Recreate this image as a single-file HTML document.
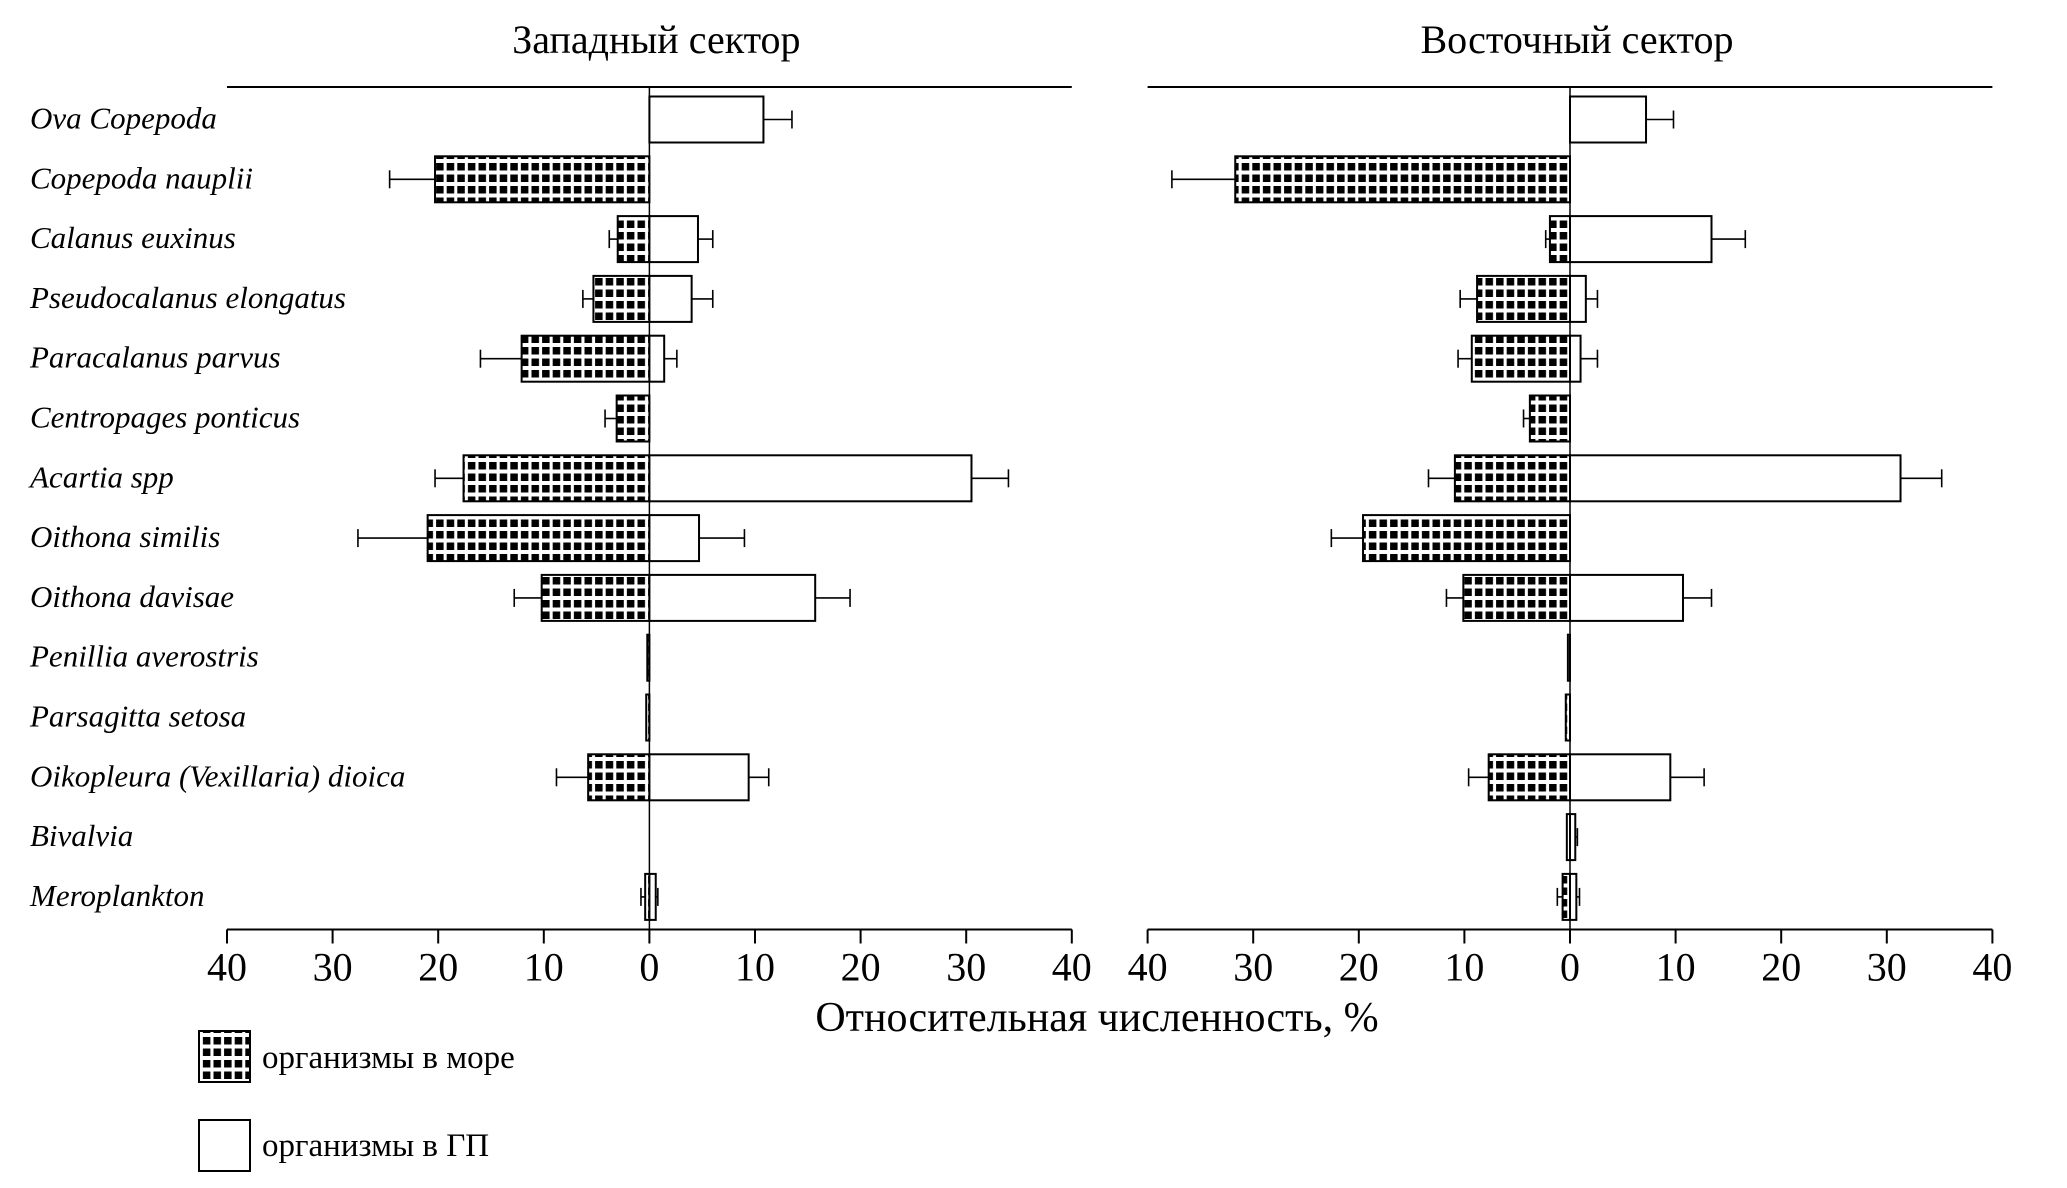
<!DOCTYPE html>
<html><head><meta charset="utf-8">
<style>
html,body{margin:0;padding:0;background:#fff;}
svg{display:block;}
text{font-family:"Liberation Serif",serif;fill:#000;}
.lab{font-style:italic;font-size:31px;}
</style></head>
<body>
<svg id="chart" width="2067" height="1188" viewBox="0 0 2067 1188" xmlns="http://www.w3.org/2000/svg">
<defs>
<pattern id="grid" width="10.6" height="11.5" patternUnits="userSpaceOnUse">
<rect width="10.6" height="11.5" fill="#fff"/>
<rect x="1.5" y="2" width="7.5" height="7.5" fill="#000"/>
</pattern>
</defs>
</svg>
<script>
const categories = ["Ova Copepoda","Copepoda nauplii","Calanus euxinus","Pseudocalanus elongatus","Paracalanus parvus","Centropages ponticus","Acartia spp","Oithona similis","Oithona davisae","Penillia averostris","Parsagitta setosa","Oikopleura (Vexillaria) dioica","Bivalvia","Meroplankton"];
const westSea    = [0, 20.3, 3.0, 5.3, 12.1, 3.1, 17.6, 21.0, 10.2, 0.2, 0.3, 5.8, 0, 0.4];
const westSeaErr = [0, 24.6, 3.8, 6.3, 16.0, 4.2, 20.3, 27.6, 12.8, 0, 0, 8.8, 0, 0.8];
const westGP     = [10.8, 0, 4.6, 4.0, 1.4, 0, 30.5, 4.7, 15.7, 0, 0, 9.4, 0, 0.6];
const westGPErr  = [13.5, 0, 6.0, 6.0, 2.6, 0, 34.0, 9.0, 19.0, 0, 0, 11.3, 0, 0.8];
const eastSea    = [0, 31.7, 1.9, 8.8, 9.3, 3.8, 10.9, 19.6, 10.1, 0.2, 0.4, 7.7, 0.3, 0.7];
const eastSeaErr = [0, 37.7, 2.3, 10.4, 10.6, 4.4, 13.4, 22.6, 11.7, 0, 0, 9.6, 0, 1.2];
const eastGP     = [7.2, 0, 13.4, 1.5, 1.0, 0, 31.3, 0, 10.7, 0, 0, 9.5, 0.5, 0.6];
const eastGPErr  = [9.8, 0, 16.6, 2.6, 2.6, 0, 35.2, 0, 13.4, 0, 0, 12.7, 0.7, 0.9];
const tickLabels = [40,30,20,10,0,10,20,30,40];
const tickValues = [-40,-30,-20,-10,0,10,20,30,40];

const NS="http://www.w3.org/2000/svg";
const svg=document.getElementById('chart');
function mk(tag,attrs,parent){const e=document.createElementNS(NS,tag);for(const k in attrs)e.setAttribute(k,attrs[k]);(parent||svg).appendChild(e);return e;}
const topY=87, axisY=929.5;
function yc(i){return 119.5+i*59.8;}
const barH=46;

function panel(zero, title, sea, seaErr, gp, gpErr, name){
  const g=mk('g',{});
  
  
  const sx=v=>zero+v*10.56;
  const t=mk('text',{x:zero+7,y:53,'text-anchor':'middle','font-size':'40'},g);
  t.textContent=title;
  
  
  mk('line',{x1:sx(-40),x2:sx(40),y1:topY,y2:topY,stroke:'#000','stroke-width':2},g);
  const ax=mk('line',{x1:sx(-40),x2:sx(40),y1:axisY,y2:axisY,stroke:'#000','stroke-width':2},g);
  
  
  tickValues.forEach((v,k)=>{
    mk('line',{x1:sx(v),x2:sx(v),y1:axisY,y2:axisY+14,stroke:'#000','stroke-width':2},g);
    const tl=mk('text',{x:sx(v),y:axisY+51,'text-anchor':'middle','font-size':'40'},g);
    tl.textContent=tickLabels[k];
    
    
  });
  categories.forEach((c,i)=>{
    const y=yc(i)-barH/2;
    if(sea[i]>0){
      const r=mk('rect',{x:sx(-sea[i]),y:y,width:sx(0)-sx(-sea[i]),height:barH,fill:'url(#grid)',stroke:'#000','stroke-width':2},g);
      
      
      if(seaErr[i]>sea[i]){
        mk('line',{x1:sx(-seaErr[i]),x2:sx(-sea[i]),y1:yc(i),y2:yc(i),stroke:'#000','stroke-width':1.6},g);
        mk('line',{x1:sx(-seaErr[i]),x2:sx(-seaErr[i]),y1:yc(i)-9,y2:yc(i)+9,stroke:'#000','stroke-width':1.6},g);
      }
    }
    if(gp[i]>0){
      const r=mk('rect',{x:sx(0),y:y,width:sx(gp[i])-sx(0),height:barH,fill:'#fff',stroke:'#000','stroke-width':2},g);
      
      
      if(gpErr[i]>gp[i]){
        mk('line',{x1:sx(gp[i]),x2:sx(gpErr[i]),y1:yc(i),y2:yc(i),stroke:'#000','stroke-width':1.6},g);
        mk('line',{x1:sx(gpErr[i]),x2:sx(gpErr[i]),y1:yc(i)-9,y2:yc(i)+9,stroke:'#000','stroke-width':1.6},g);
      }
    }
  });
  mk('line',{x1:sx(0),x2:sx(0),y1:topY,y2:axisY,stroke:'#000','stroke-width':1.5},g);
}
panel(649.4,'Западный сектор',westSea,westSeaErr,westGP,westGPErr,'west-panel');
panel(1570,'Восточный сектор',eastSea,eastSeaErr,eastGP,eastGPErr,'east-panel');

categories.forEach((c,i)=>{
  const t=mk('text',{x:30,y:yc(i)+9,class:'lab'});
  t.textContent=c;
  
  
});
const at=mk('text',{x:1097,y:1031,'text-anchor':'middle','font-size':'42'});
at.textContent='Относительная численность, %';



const l1=mk('rect',{x:199,y:1031,width:51,height:51,fill:'url(#grid)',stroke:'#000','stroke-width':2});


const lt1=mk('text',{x:262,y:1068,'font-size':'33'});
lt1.textContent='организмы в море';


const l2=mk('rect',{x:199,y:1120,width:51,height:51,fill:'#fff',stroke:'#000','stroke-width':2});


const lt2=mk('text',{x:262,y:1156,'font-size':'33'});
lt2.textContent='организмы в ГП';


</script>
</body></html>
